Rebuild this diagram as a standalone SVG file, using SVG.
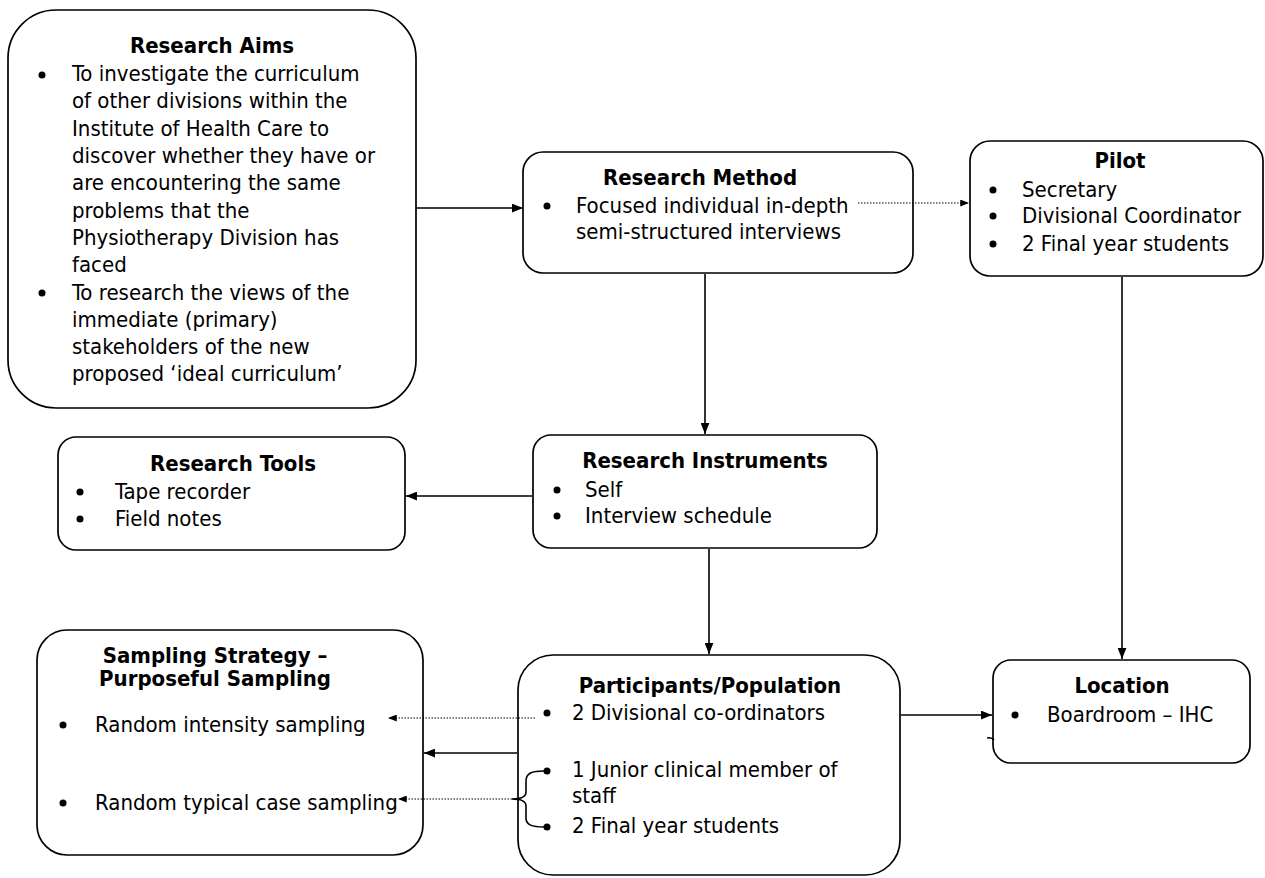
<svg xmlns="http://www.w3.org/2000/svg" width="1265" height="878" viewBox="0 0 1265 878">
  <style>
    .box { fill: #fff; stroke: #000; stroke-width: 1.7; }
    text { font-family: "DejaVu Sans Condensed", "DejaVu Sans", sans-serif; font-size: 22px; fill: #000; }
    .title { font-weight: bold; text-anchor: middle; }
    .dot { fill: #000; }
    .wire { fill: none; stroke: #000; stroke-width: 1.6; }
    .dotted { fill: none; stroke: #000; stroke-width: 1.2; stroke-dasharray: 1.5 1.5; }
  </style>
  <defs>
    <marker id="arrow" viewBox="0 0 10 8" refX="10" refY="4" markerWidth="11" markerHeight="9" markerUnits="userSpaceOnUse" orient="auto">
      <path d="M0,0 L10,4 L0,8 z" fill="#000"/>
    </marker>
    <marker id="arrowSmall" viewBox="0 0 10 8" refX="10" refY="4" markerWidth="9" markerHeight="7" markerUnits="userSpaceOnUse" orient="auto">
      <path d="M0,0 L10,4 L0,8 z" fill="#000"/>
    </marker>
  </defs>
  <rect width="1265" height="878" fill="#fff"/>

  <g id="research-aims">
    <rect class="box" x="8" y="10" width="408" height="398" rx="48"/>
    <text class="title" x="212" y="53">Research Aims</text>
    <circle class="dot" cx="42" cy="75" r="3.5"/>
    <circle class="dot" cx="42" cy="293" r="3.5"/>
    <text x="72" y="81">To investigate the curriculum</text>
    <text x="72" y="108">of other divisions within the</text>
    <text x="72" y="136">Institute of Health Care to</text>
    <text x="72" y="163">discover whether they have or</text>
    <text x="72" y="190">are encountering the same</text>
    <text x="72" y="218">problems that the</text>
    <text x="72" y="245">Physiotherapy Division has</text>
    <text x="72" y="272">faced</text>
    <text x="72" y="300">To research the views of the</text>
    <text x="72" y="327">immediate (primary)</text>
    <text x="72" y="354">stakeholders of the new</text>
    <text x="72" y="381">proposed ‘ideal curriculum’</text>
  </g>

  <g id="research-method">
    <rect class="box" x="523" y="152" width="390" height="121" rx="20"/>
    <text class="title" x="700" y="185">Research Method</text>
    <circle class="dot" cx="547" cy="206" r="3.5"/>
    <text x="576" y="213">Focused individual in-depth</text>
    <text x="576" y="239">semi-structured interviews</text>
  </g>

  <g id="pilot">
    <rect class="box" x="970" y="141" width="293" height="135" rx="20"/>
    <text class="title" x="1120" y="168">Pilot</text>
    <circle class="dot" cx="993" cy="190" r="3.5"/>
    <circle class="dot" cx="993" cy="216" r="3.5"/>
    <circle class="dot" cx="993" cy="244" r="3.5"/>
    <text x="1022" y="197">Secretary</text>
    <text x="1022" y="223">Divisional Coordinator</text>
    <text x="1022" y="251">2 Final year students</text>
  </g>

  <g id="research-tools">
    <rect class="box" x="58" y="437" width="347" height="113" rx="18"/>
    <text class="title" x="233" y="471">Research Tools</text>
    <circle class="dot" cx="80" cy="492" r="3.5"/>
    <circle class="dot" cx="80" cy="519" r="3.5"/>
    <text x="115" y="499">Tape recorder</text>
    <text x="115" y="526">Field notes</text>
  </g>

  <g id="research-instruments">
    <rect class="box" x="533" y="435" width="344" height="113" rx="18"/>
    <text class="title" x="705" y="468">Research Instruments</text>
    <circle class="dot" cx="557" cy="490" r="3.5"/>
    <circle class="dot" cx="557" cy="516" r="3.5"/>
    <text x="585" y="497">Self</text>
    <text x="585" y="523">Interview schedule</text>
  </g>

  <g id="sampling-strategy">
    <rect class="box" x="37" y="630" width="386" height="225" rx="30"/>
    <text class="title" x="215" y="663">Sampling Strategy –</text>
    <text class="title" x="215" y="686">Purposeful Sampling</text>
    <circle class="dot" cx="63" cy="725" r="3.5"/>
    <circle class="dot" cx="63" cy="803" r="3.5"/>
    <text x="95" y="732">Random intensity sampling</text>
    <text x="95" y="810">Random typical case sampling</text>
  </g>

  <g id="participants">
    <rect class="box" x="518" y="655" width="382" height="220" rx="35"/>
    <text class="title" x="710" y="693">Participants/Population</text>
    <circle class="dot" cx="547" cy="713" r="3.5"/>
    <circle class="dot" cx="547" cy="771" r="3.5"/>
    <circle class="dot" cx="547" cy="827" r="3.5"/>
    <text x="572" y="720">2 Divisional co-ordinators</text>
    <text x="572" y="777">1 Junior clinical member of</text>
    <text x="572" y="803">staff</text>
    <text x="572" y="833">2 Final year students</text>
  </g>

  <g id="location">
    <rect class="box" x="993" y="660" width="257" height="103" rx="18"/>
    <text class="title" x="1122" y="693">Location</text>
    <circle class="dot" cx="1015" cy="715" r="3.5"/>
    <text x="1047" y="722">Boardroom – IHC</text>
  </g>

  <g id="connectors">
    <line class="wire" x1="416" y1="208" x2="523" y2="208" marker-end="url(#arrow)"/>
    <line class="dotted" x1="858" y1="203" x2="969" y2="203" marker-end="url(#arrowSmall)"/>
    <line class="wire" x1="705" y1="274" x2="705" y2="434" marker-end="url(#arrow)"/>
    <line class="wire" x1="532" y1="496" x2="406" y2="496" marker-end="url(#arrow)"/>
    <line class="wire" x1="709" y1="549" x2="709" y2="654" marker-end="url(#arrow)"/>
    <line class="wire" x1="1122" y1="277" x2="1122" y2="659" marker-end="url(#arrow)"/>
    <line class="wire" x1="901" y1="715" x2="992" y2="715" marker-end="url(#arrow)"/>
    <line class="wire" x1="517" y1="753" x2="424" y2="753" marker-end="url(#arrow)"/>
    <line class="dotted" x1="535" y1="718" x2="388" y2="718" marker-end="url(#arrowSmall)"/>
    <line class="dotted" x1="512" y1="799" x2="398" y2="799" marker-end="url(#arrowSmall)"/>
    <!-- brace joining the two lower participant bullets -->
    <path class="wire" d="M544,771 C532,771 526,773 526,781 L526,792 C526,797 521,799 512,799 C521,799 526,801 526,806 L526,818 C526,825 532,827 544,827"/>
    <path class="wire" d="M987,738 Q992,737 994,740"/>
  </g>
</svg>
